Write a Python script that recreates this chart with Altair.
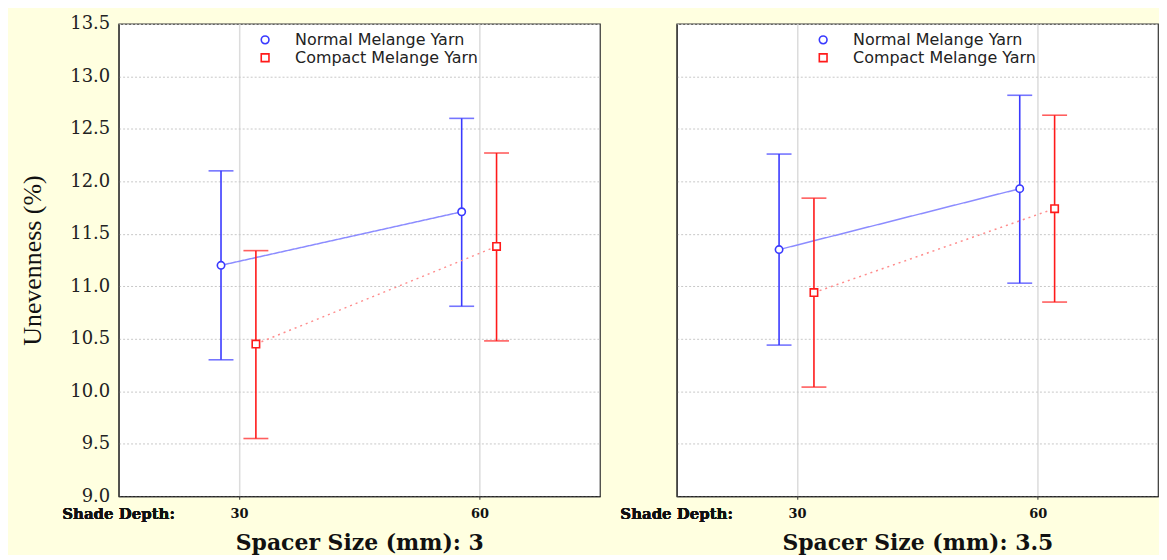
import altair as alt
import pandas as pd

# ---- data ----
depths = ["30", "60"]
series = ["Normal Melange Yarn", "Compact Melange Yarn"]
spacers = ["3", "3.5"]

# spacer 3
normal_mean_3 = [11.20, 11.71]
normal_lo_3 = [10.30, 10.81]
normal_hi_3 = [12.10, 12.60]
compact_mean_3 = [10.45, 11.38]
compact_lo_3 = [9.55, 10.48]
compact_hi_3 = [11.34, 12.27]
# spacer 3.5
normal_mean_35 = [11.35, 11.93]
normal_lo_35 = [10.44, 11.03]
normal_hi_35 = [12.26, 12.82]
compact_mean_35 = [10.94, 11.74]
compact_lo_35 = [10.04, 10.85]
compact_hi_35 = [11.84, 12.63]

y_ticks = [9.0, 9.5, 10.0, 10.5, 11.0, 11.5, 12.0, 12.5, 13.0, 13.5]

rows = []
for sp, nm, nl, nh, cm, cl, ch in [
    ("3", normal_mean_3, normal_lo_3, normal_hi_3, compact_mean_3, compact_lo_3, compact_hi_3),
    ("3.5", normal_mean_35, normal_lo_35, normal_hi_35, compact_mean_35, compact_lo_35, compact_hi_35),
]:
    for i, d in enumerate(depths):
        rows.append(dict(spacer=sp, depth=d, yarn=series[0], mean=nm[i], lo=nl[i], hi=nh[i]))
        rows.append(dict(spacer=sp, depth=d, yarn=series[1], mean=cm[i], lo=cl[i], hi=ch[i]))
df = pd.DataFrame(rows)

PW, PH = 483, 474
SERIF = "DejaVu Serif"

style = {
    series[0]: dict(off=-18, line="#8c8cff", bar="#3a3aff", dash=[1, 0]),
    series[1]: dict(off=17, line="#ff8c8c", bar="#ff1a1a", dash=[2, 4]),
}


def panel(sp, show_y):
    base = alt.Chart(df[df.spacer == sp])
    x = alt.X(
        "depth:O",
        scale=alt.Scale(type="point", padding=0.5, domain=depths),
        axis=alt.Axis(
            title=f"Spacer Size (mm): {sp}",
            titleFont=SERIF, titleFontSize=22, titleFontWeight="bold", titleColor="#111",
            titlePadding=12,
            labelFont=SERIF, labelFontSize=13, labelFontWeight="bold", labelColor="#111",
            labelAngle=0, labelPadding=8, ticks=True, tickSize=3, tickColor="#333",
            domainColor="#222", grid=True, gridColor="#dcdcdc", gridWidth=1.5,
        ),
    )
    yscale = alt.Scale(domain=[9.0, 13.5], nice=False, zero=False)
    if show_y:
        yaxis = alt.Axis(
            values=y_ticks, format=".1f", title="Unevenness (%)",
            titleFont="Liberation Serif", titleFontSize=26, titleFontWeight="normal",
            titleColor="#111", titlePadding=24,
            labelFont=SERIF, labelFontSize=18, labelColor="#222", labelPadding=9,
            ticks=False, domainColor="#222", gridColor="#c8c8c8", gridDash=[2, 2],
        )
    else:
        yaxis = alt.Axis(values=y_ticks, labels=False, title=None, ticks=False,
                         domainColor="#222", gridColor="#c8c8c8", gridDash=[2, 2])

    layers = []
    for s in series:
        st = style[s]
        b = base.transform_filter(alt.datum.yarn == s)
        layers.append(
            b.mark_line(xOffset=st["off"], color=st["line"], strokeWidth=1.5,
                        strokeDash=st["dash"]).encode(
                x=x, y=alt.Y("mean:Q", scale=yscale, axis=yaxis))
        )
        layers.append(
            b.mark_rule(xOffset=st["off"], color=st["bar"], strokeWidth=1.6).encode(
                x=x, y="lo:Q", y2="hi:Q")
        )
        layers.append(
            b.mark_tick(xOffset=st["off"], color=st["bar"], orient="horizontal",
                        size=25, thickness=1.6).encode(x=x, y="lo:Q")
        )
        layers.append(
            b.mark_tick(xOffset=st["off"], color=st["bar"], orient="horizontal",
                        size=25, thickness=1.6).encode(x=x, y="hi:Q")
        )
    leg = dict(title=None, orient="none", legendX=139, legendY=8,
               labelFont="DejaVu Sans", labelFontSize=16, labelColor="#222",
               labelLimit=0, symbolFillColor="white", symbolStrokeWidth=1.6,
               symbolSize=60, rowPadding=2, labelOffset=22)
    for s in series:
        st = style[s]
        b = base.transform_filter(alt.datum.yarn == s)
        layers.append(
            b.mark_point(xOffset=st["off"], filled=False, fill="white", fillOpacity=1,
                         strokeWidth=1.6, size=55, opacity=1).encode(
                x=x, y="mean:Q",
                color=alt.Color("yarn:N", scale=alt.Scale(domain=series, range=["#3a3aff", "#ff1a1a"]),
                                legend=alt.Legend(**leg)),
                shape=alt.Shape("yarn:N", scale=alt.Scale(domain=series, range=["circle", "square"]),
                                legend=alt.Legend(**leg)),
            )
        )
    layers.append(
        base.mark_text(text="Shade Depth:", font=SERIF, fontSize=15, fontWeight="bold",
                       color="#111", align="center", baseline="middle").encode(
            x=alt.value(0), y=alt.value(PH + 18))
    )
    return alt.layer(*layers).properties(width=PW, height=PH)


left = panel("3", True)
right = panel("3.5", False)

chart = (
    alt.hconcat(left, right, spacing=77, bounds="flush")
    .resolve_scale(color="independent", shape="independent")
    .resolve_legend(color="independent", shape="independent")
    .properties(background="#ffffe0", padding={"left": 11, "top": 5, "right": 0, "bottom": 0})
    .configure_view(fill="white", stroke="#333", strokeWidth=1.2)
)

chart.save("out.html", embed_options={"renderer": "svg", "actions": False})
